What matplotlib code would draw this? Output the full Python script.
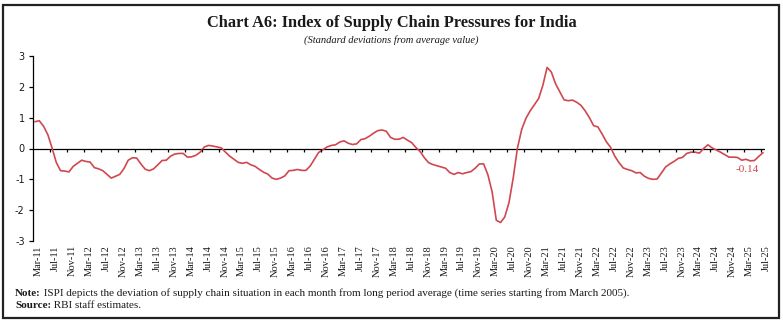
import matplotlib
matplotlib.use("Agg")
import matplotlib.pyplot as plt
import matplotlib.transforms as mtransforms
from matplotlib.patches import Rectangle
import numpy as np
import pandas as pd

# monthly ISPI values, Mar-2011 .. Jul-2025
months = pd.date_range("2011-03-01", "2025-07-01", freq="MS")
ispi = [
    0.87, 0.90, 0.72, 0.45, 0.02, -0.45, -0.72, -0.73, -0.76, -0.58,
    -0.48, -0.38, -0.42, -0.44, -0.62, -0.66, -0.72, -0.84, -0.96, -0.90,
    -0.84, -0.65, -0.38, -0.30, -0.31, -0.50, -0.67, -0.72, -0.66, -0.53,
    -0.39, -0.38, -0.25, -0.18, -0.16, -0.16, -0.28, -0.27, -0.22, -0.12,
    0.05, 0.10, 0.08, 0.05, 0.02, -0.12, -0.25, -0.35, -0.45, -0.48,
    -0.45, -0.53, -0.58, -0.68, -0.77, -0.83, -0.96, -1.00, -0.96, -0.89,
    -0.72, -0.71, -0.68, -0.71, -0.71, -0.57, -0.35, -0.13, -0.04, 0.05,
    0.10, 0.12, 0.21, 0.25, 0.17, 0.13, 0.15, 0.29, 0.32, 0.40,
    0.50, 0.58, 0.60, 0.56, 0.36, 0.30, 0.30, 0.36, 0.27, 0.19,
    0.03, -0.10, -0.30, -0.46, -0.52, -0.56, -0.60, -0.64, -0.78, -0.84,
    -0.78, -0.82, -0.78, -0.75, -0.64, -0.50, -0.50, -0.85, -1.40, -2.33,
    -2.40, -2.22, -1.75, -0.95, 0.02, 0.62, 0.98, 1.22, 1.42, 1.62,
    2.05, 2.63, 2.48, 2.10, 1.84, 1.58, 1.55, 1.57, 1.50, 1.40,
    1.22, 1.00, 0.74, 0.70, 0.47, 0.22, 0.04, -0.25, -0.46, -0.63,
    -0.68, -0.72, -0.79, -0.78, -0.90, -0.97, -1.00, -0.99, -0.80, -0.60,
    -0.50, -0.42, -0.32, -0.29, -0.16, -0.12, -0.12, -0.15, 0.00, 0.12,
    0.02, -0.05, -0.12, -0.20, -0.28, -0.28, -0.29, -0.38, -0.35, -0.40,
    -0.39, -0.26, -0.14,
]
y_ticks = [-3, -2, -1, 0, 1, 2, 3]
last_label = "-0.14"

line_color = "#D04750"
text_color = "#1a1a1a"
plt.rcParams["font.family"] = ["Liberation Serif", "DejaVu Serif"]

fig = plt.figure(figsize=(7.83, 3.24), dpi=100)
ax = fig.add_axes([33 / 783, 1 - 241 / 324, (765 - 33) / 783, (241 - 56) / 324])

x = np.arange(len(ispi))
ax.plot(x, ispi, color=line_color, lw=1.2, solid_joinstyle="round")

ax.set_xlim(-0.5, len(ispi) - 0.5)
ax.set_ylim(-3, 3)

# zero line with small ticks between categories
ax.axhline(0, color="black", lw=0.9, zorder=1)
tick_idx = x[::4]
ax.vlines(tick_idx[1:] - 0.5, -0.1, 0, color="black", lw=0.9)

# category labels along the bottom
ax.set_xticks(tick_idx)
ax.set_xticklabels([months[i].strftime("%b-%y") for i in tick_idx],
                   rotation=90, fontsize=7.5, color=text_color)
ax.tick_params(axis="x", length=0, pad=3)
shift = mtransforms.ScaledTranslation(3.5 / 100, 0, fig.dpi_scale_trans)
for lab in ax.get_xticklabels():
    lab.set_transform(lab.get_transform() + shift)

ax.set_yticks(y_ticks)
ax.set_yticklabels([str(v) for v in y_ticks], fontsize=7, family="DejaVu Sans",
                   color=text_color)
ax.tick_params(axis="y", length=3, width=0.9, pad=3)

for s in ["top", "right", "bottom"]:
    ax.spines[s].set_visible(False)
ax.spines["left"].set_linewidth(0.9)

ax.annotate(last_label, (x[-1], ispi[-1]), textcoords="offset points",
            xytext=(-11, -12), ha="center", va="center",
            color=line_color, fontsize=8)

fig.text(0.5, 1 - 23 / 324, "Chart A6: Index of Supply Chain Pressures for India",
         ha="center", va="center", fontsize=11.8, fontweight="bold", color=text_color)
fig.text(0.5, 1 - 40.5 / 324, "(Standard deviations from average value)",
         ha="center", va="center", fontsize=7.6, style="italic", color=text_color)

# footnotes: bold lead word followed by plain text
renderer = fig.canvas.get_renderer()
for y_px, lead, rest in [
    (293, "Note:", " ISPI depicts the deviation of supply chain situation in each month "
                   "from long period average (time series starting from March 2005)."),
    (306, "Source:", " RBI staff estimates."),
]:
    t = fig.text(15 / 783, 1 - y_px / 324, lead, ha="left", va="center",
                 fontsize=8, fontweight="bold", color=text_color)
    bb = t.get_window_extent(renderer)
    fig.text(bb.x1 / fig.bbox.width, 1 - y_px / 324, rest, ha="left", va="center",
             fontsize=8, color=text_color)

# outer frame
fig.add_artist(Rectangle((3 / 783, 1 - 318 / 324), 776 / 783, 313 / 324,
                         transform=fig.transFigure, fill=False,
                         edgecolor="#222222", lw=1.6))

fig.savefig("out.png", dpi=100)
